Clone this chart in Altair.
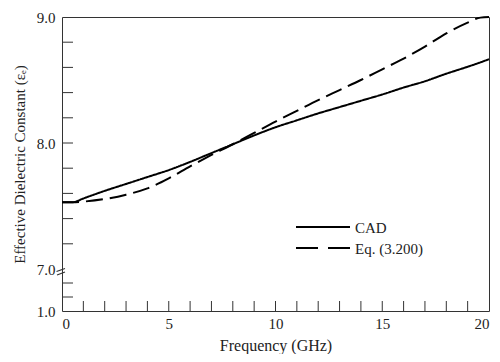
import altair as alt
import pandas as pd

# ---- data ----
freq = [0, 0.5, 1, 2, 3, 4, 5, 6, 7, 8, 9, 10, 11, 12, 13, 14, 15, 16, 17, 18, 19, 19.6, 20]
cad = [7.53, 7.53, 7.56, 7.62, 7.675, 7.73, 7.785, 7.85, 7.92, 7.99, 8.06, 8.125, 8.18,
       8.235, 8.285, 8.335, 8.385, 8.44, 8.49, 8.55, 8.605, 8.64, 8.665]
eq = [7.53, 7.53, 7.535, 7.555, 7.59, 7.64, 7.72, 7.815, 7.905, 7.99, 8.08, 8.17, 8.255,
      8.34, 8.42, 8.5, 8.585, 8.67, 8.765, 8.87, 8.955, 8.995, 9.0]
series_names = ["CAD", "Eq. (3.200)"]

# broken y axis: 1.0 .. 7.0 is compressed into one third of a unit below 7.0
BREAK_LO = 7 - 1 / 3
y_major = [BREAK_LO, 7.0, 8.0, 9.0]
y_minor = [7 - 2 / 9, 7 - 1 / 9, 7.2, 7.4, 7.6, 7.8, 8.0, 8.2, 8.4, 8.6, 8.8]
x_major = [0, 5, 10, 15, 20]
x_minor = list(range(1, 20))

rows = []
for f, c, e in zip(freq, cad, eq):
    rows.append({"f": f, "v": c, "series": series_names[0]})
    rows.append({"f": f, "v": e, "series": series_names[1]})
df = pd.DataFrame(rows)

FONT = "Liberation Serif"
FS = 15
W, H = 427, 294
DASH = [17, 7]

xs = alt.Scale(domain=[0, 20], nice=False, zero=False)
ys = alt.Scale(domain=[BREAK_LO, 9.0], nice=False, zero=False)

lines = alt.Chart(df).mark_line(color="black", strokeWidth=2, interpolate="monotone").encode(
    x=alt.X("f:Q", scale=xs,
            axis=alt.Axis(values=x_major, title="Frequency (GHz)", ticks=False, domain=False,
                          grid=False, labelPadding=5, titlePadding=6, titleFontSize=16,
                          format="d")),
    y=alt.Y("v:Q", scale=ys,
            axis=alt.Axis(values=y_major, title="Effective Dielectric Constant (εₑ)",
                          ticks=False, domain=False, grid=False, labelPadding=7,
                          titlePadding=9,
                          labelExpr="datum.value < 6.9 ? '1.0' : format(datum.value, '.1f')")),
    strokeDash=alt.StrokeDash("series:N",
                              scale=alt.Scale(domain=series_names, range=[[1, 0], DASH]),
                              legend=None),
)

ytick_df = pd.DataFrame({"v": y_minor})
yticks = alt.Chart(ytick_df).mark_rule(color="#333", strokeWidth=1).encode(
    y=alt.Y("v:Q", scale=ys), x=alt.value(0), x2=alt.value(11)
)

xtick_df = pd.DataFrame({"f": x_minor})
xticks = alt.Chart(xtick_df).mark_rule(color="#333", strokeWidth=1).encode(
    x=alt.X("f:Q", scale=xs), y=alt.value(H), y2=alt.value(H - 10)
)

# axis break marks (decoration)
one = pd.DataFrame({"k": [0]})
brk1 = alt.Chart(one).mark_rule(color="#333", strokeWidth=1.2).encode(
    x=alt.value(-5.5), x2=alt.value(3), y=alt.value(254.5), y2=alt.value(251.5))
brk2 = alt.Chart(one).mark_rule(color="#333", strokeWidth=1.2).encode(
    x=alt.value(-5), x2=alt.value(3), y=alt.value(258), y2=alt.value(255))

# legend drawn inside the plot
LX0, LX1, LTX = 234, 288, 293
LY = [210, 231]
leg_layers = []
for i, name in enumerate(series_names):
    d = pd.DataFrame({"label": [name]})
    rule_kw = {"color": "black", "strokeWidth": 2}
    if i == 1:
        rule_kw["strokeDash"] = [22, 10]
    leg_layers.append(alt.Chart(d).mark_rule(**rule_kw).encode(
        x=alt.value(LX0), x2=alt.value(LX1), y=alt.value(LY[i])))
    leg_layers.append(alt.Chart(d).mark_text(
        align="left", baseline="middle", font=FONT, fontSize=FS, color="#222").encode(
        text="label:N", x=alt.value(LTX), y=alt.value(LY[i] + 1)))

chart = alt.layer(yticks, xticks, brk1, brk2, lines, *leg_layers).properties(
    width=W, height=H,
    autosize=alt.AutoSizeParams(type="none"),
    padding={"left": 54, "top": 9, "right": 3, "bottom": 43},
).configure_view(
    stroke="#333", strokeWidth=1
).configure_axis(
    labelFont=FONT, titleFont=FONT, labelFontSize=FS, titleFontSize=FS,
    labelColor="#222", titleColor="#222", titleFontWeight="normal",
)

chart.save("out.html", embed_options={"renderer": "svg", "actions": False})
